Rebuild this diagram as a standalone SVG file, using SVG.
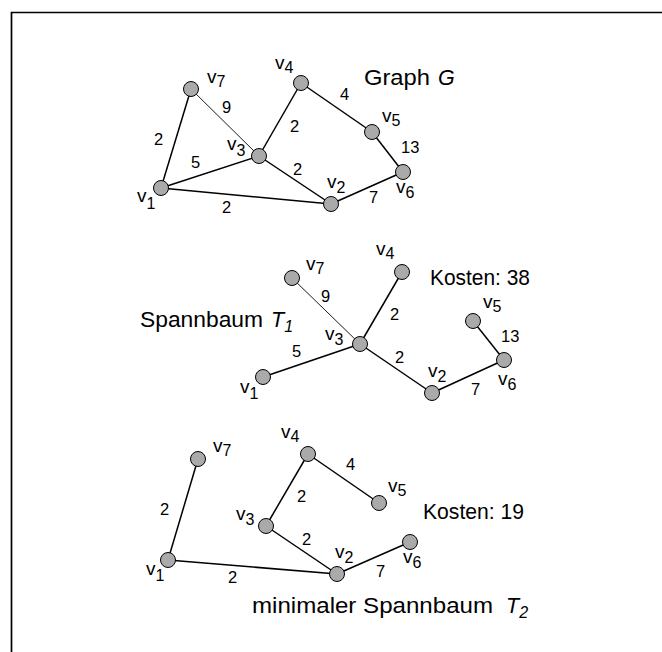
<svg xmlns="http://www.w3.org/2000/svg" width="662" height="652" viewBox="0 0 662 652">
<style>
text{font-family:"Liberation Sans",Arial,Helvetica,sans-serif;fill:#000}
.lbl{font-size:19px}
.sub{font-size:16px}
.w{font-size:16.5px}
.t{font-size:21.5px}
.it{font-style:italic}
.e{stroke:#000;stroke-width:1.5;fill:none}
.thin{stroke-width:0.9}
.n circle{fill:#aaaaaa;stroke:#000;stroke-width:1}
</style>
<rect width="662" height="652" fill="#fff"/>
<path d="M11.5,652 V12.5 H662" fill="none" stroke="#000" stroke-width="1.7"/>

<!-- Graph G -->
<g id="edgesG">
<line class="e" x1="191" y1="89" x2="161" y2="188"/>
<line class="e thin" x1="191" y1="89" x2="259" y2="156"/>
<line class="e" x1="301" y1="83" x2="259" y2="156"/>
<line class="e" x1="301" y1="83" x2="372" y2="132"/>
<line class="e" x1="372" y1="132" x2="403" y2="172"/>
<line class="e" x1="259" y1="156" x2="161" y2="188"/>
<line class="e" x1="259" y1="156" x2="331" y2="204"/>
<line class="e" x1="161" y1="188" x2="331" y2="204"/>
<line class="e" x1="331" y1="204" x2="403" y2="172"/>
</g>
<g id="G_v7" class="n"><circle cx="191" cy="89" r="7.5"/><text class="lbl" x="207" y="83">v<tspan class="sub" dy="4">7</tspan></text></g>
<g id="G_v4" class="n"><circle cx="301" cy="83" r="7.5"/><text class="lbl" x="275" y="69">v<tspan class="sub" dy="4">4</tspan></text></g>
<g id="G_v5" class="n"><circle cx="372" cy="132" r="7.5"/><text class="lbl" x="382" y="122">v<tspan class="sub" dy="4">5</tspan></text></g>
<g id="G_v3" class="n"><circle cx="259" cy="156" r="7.5"/><text class="lbl" x="227" y="150">v<tspan class="sub" dy="6">3</tspan></text></g>
<g id="G_v6" class="n"><circle cx="403" cy="172" r="7.5"/><text class="lbl" x="396" y="193">v<tspan class="sub" dy="5">6</tspan></text></g>
<g id="G_v1" class="n"><circle cx="161" cy="188" r="7.5"/><text class="lbl" x="137" y="202">v<tspan class="sub" dy="7">1</tspan></text></g>
<g id="G_v2" class="n"><circle cx="331" cy="204" r="7.5"/><text class="lbl" x="327" y="188">v<tspan class="sub" dy="5">2</tspan></text></g>
<g id="G_labels">
<text class="t" x="364" y="85" textLength="66" lengthAdjust="spacingAndGlyphs">Graph</text>
<text class="t it" x="438" y="85">G</text>
<text class="w" x="222" y="113">9</text>
<text class="w" x="340" y="100">4</text>
<text class="w" x="290" y="132">2</text>
<text class="w" x="401" y="153">13</text>
<text class="w" x="154" y="145">2</text>
<text class="w" x="191" y="168">5</text>
<text class="w" x="293" y="175">2</text>
<text class="w" x="369" y="203">7</text>
<text class="w" x="222" y="213">2</text>
</g>

<!-- Spannbaum T1 -->
<g id="edgesT1">
<line class="e thin" x1="292" y1="278" x2="360" y2="344"/>
<line class="e" x1="402" y1="272" x2="360" y2="344"/>
<line class="e" x1="360" y1="344" x2="263" y2="377"/>
<line class="e" x1="360" y1="344" x2="432" y2="393"/>
<line class="e" x1="432" y1="393" x2="504" y2="360"/>
<line class="e" x1="504" y1="360" x2="473" y2="321"/>
</g>
<g id="T1_v7" class="n"><circle cx="292" cy="278" r="7.5"/><text class="lbl" x="306" y="270">v<tspan class="sub" dy="4">7</tspan></text></g>
<g id="T1_v4" class="n"><circle cx="402" cy="272" r="7.5"/><text class="lbl" x="376" y="255">v<tspan class="sub" dy="4">4</tspan></text></g>
<g id="T1_v5" class="n"><circle cx="473" cy="321" r="7.5"/><text class="lbl" x="483" y="308">v<tspan class="sub" dy="4">5</tspan></text></g>
<g id="T1_v3" class="n"><circle cx="360" cy="344" r="7.5"/><text class="lbl" x="325" y="340">v<tspan class="sub" dy="5">3</tspan></text></g>
<g id="T1_v6" class="n"><circle cx="504" cy="360" r="7.5"/><text class="lbl" x="498" y="385">v<tspan class="sub" dy="5">6</tspan></text></g>
<g id="T1_v1" class="n"><circle cx="263" cy="377" r="7.5"/><text class="lbl" x="240" y="393">v<tspan class="sub" dy="6">1</tspan></text></g>
<g id="T1_v2" class="n"><circle cx="432" cy="393" r="7.5"/><text class="lbl" x="428" y="377">v<tspan class="sub" dy="5">2</tspan></text></g>
<g id="T1_labels">
<text class="t" x="430" y="285" textLength="100" lengthAdjust="spacingAndGlyphs">Kosten: 38</text>
<text class="t" x="140" y="327" textLength="123" lengthAdjust="spacingAndGlyphs">Spannbaum</text>
<text class="t it" x="271" y="327">T<tspan class="sub" dy="5">1</tspan></text>
<text class="w" x="321" y="302">9</text>
<text class="w" x="390" y="320">2</text>
<text class="w" x="501" y="342">13</text>
<text class="w" x="292" y="357">5</text>
<text class="w" x="395" y="363">2</text>
<text class="w" x="471" y="395">7</text>
</g>

<!-- Minimaler Spannbaum T2 -->
<g id="edgesT2">
<line class="e" x1="198" y1="459" x2="168" y2="560"/>
<line class="e" x1="308" y1="454" x2="266" y2="526"/>
<line class="e" x1="308" y1="454" x2="379" y2="503"/>
<line class="e" x1="266" y1="526" x2="337" y2="574"/>
<line class="e" x1="168" y1="560" x2="337" y2="574"/>
<line class="e" x1="337" y1="574" x2="410" y2="542"/>
</g>
<g id="T2_v7" class="n"><circle cx="198" cy="459" r="7.5"/><text class="lbl" x="213" y="452">v<tspan class="sub" dy="4">7</tspan></text></g>
<g id="T2_v4" class="n"><circle cx="308" cy="454" r="7.5"/><text class="lbl" x="281" y="438">v<tspan class="sub" dy="4">4</tspan></text></g>
<g id="T2_v5" class="n"><circle cx="379" cy="503" r="7.5"/><text class="lbl" x="388" y="492">v<tspan class="sub" dy="4">5</tspan></text></g>
<g id="T2_v3" class="n"><circle cx="266" cy="526" r="7.5"/><text class="lbl" x="236" y="520">v<tspan class="sub" dy="5">3</tspan></text></g>
<g id="T2_v6" class="n"><circle cx="410" cy="542" r="7.5"/><text class="lbl" x="403" y="563">v<tspan class="sub" dy="5">6</tspan></text></g>
<g id="T2_v1" class="n"><circle cx="168" cy="560" r="7.5"/><text class="lbl" x="146" y="575">v<tspan class="sub" dy="6">1</tspan></text></g>
<g id="T2_v2" class="n"><circle cx="337" cy="574" r="7.5"/><text class="lbl" x="335" y="558">v<tspan class="sub" dy="5">2</tspan></text></g>
<g id="T2_labels">
<text class="t" x="423" y="519" textLength="101" lengthAdjust="spacingAndGlyphs">Kosten: 19</text>
<text class="t" x="252" y="613" textLength="241" lengthAdjust="spacingAndGlyphs">minimaler Spannbaum</text>
<text class="t it" x="506" y="613">T<tspan class="sub" dy="5">2</tspan></text>
<text class="w" x="346" y="470">4</text>
<text class="w" x="297" y="502">2</text>
<text class="w" x="160" y="515">2</text>
<text class="w" x="302" y="545">2</text>
<text class="w" x="376" y="577">7</text>
<text class="w" x="228" y="583">2</text>
</g>
</svg>
